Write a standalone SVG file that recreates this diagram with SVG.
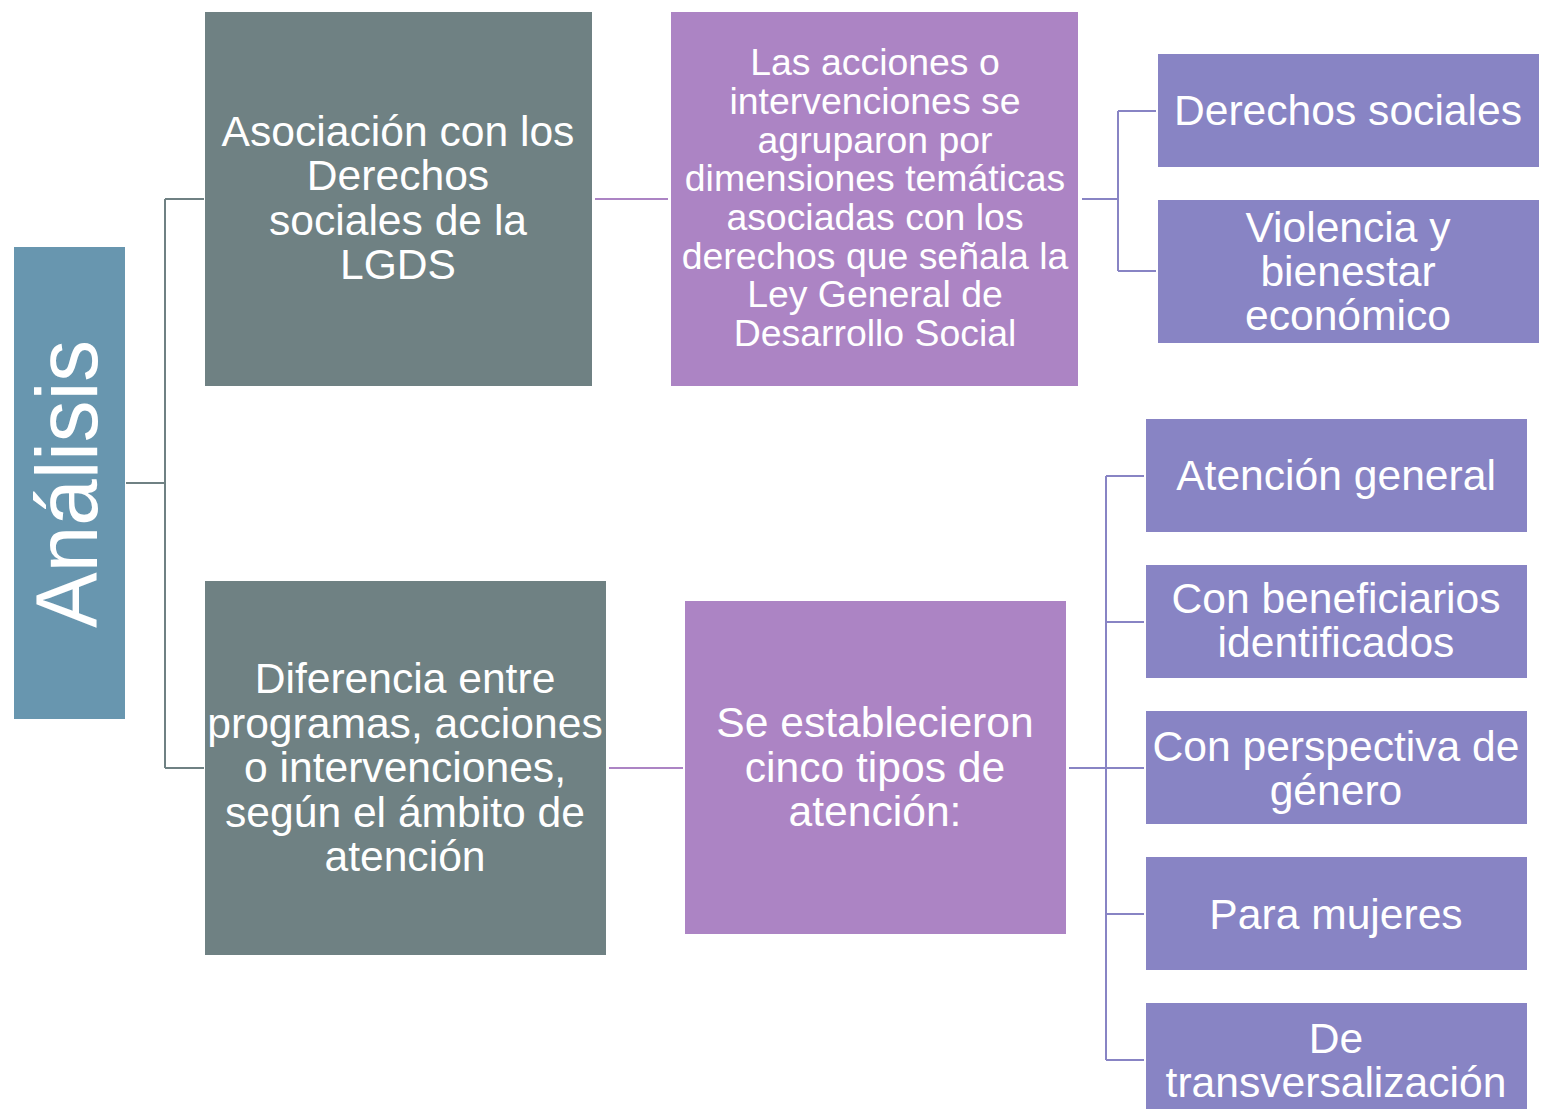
<svg xmlns="http://www.w3.org/2000/svg" width="1544" height="1109" viewBox="0 0 1544 1109">
<style>
.t{font-family:"Liberation Sans",Arial,sans-serif;fill:#ffffff;text-anchor:middle}
.f42{font-size:42.6px}
.f37{font-size:37.4px}
.gray{fill:#6F8183}
.purp{fill:#AC84C4}
.blue{fill:#8884C4}
.root{fill:#6896AF}
.cg{stroke:#6F8183;stroke-width:2;fill:none}
.cp{stroke:#AC84C4;stroke-width:2;fill:none}
.cb{stroke:#8884C4;stroke-width:2;fill:none}
</style>
<rect width="1544" height="1109" fill="#ffffff"/>
<g id="connectors">
<path class="cg" d="M126,483 H165 M165,199 V768 M165,199 H204 M165,768 H204"/>
<path class="cp" d="M595,199 H668"/>
<path class="cp" d="M609,768 H683"/>
<path class="cb" d="M1082,199 H1118 M1118,111 V271 M1118,111 H1156 M1118,271 H1156"/>
<path class="cb" d="M1069,768 H1106 M1106,476 V1060 M1106,476 H1144 M1106,622 H1144 M1106,768 H1144 M1106,914 H1144 M1106,1060 H1144"/>
</g>
<g id="analisis">
<rect class="root" x="14" y="247" width="111" height="472"/>
<text class="t" font-size="88" transform="translate(97,484) rotate(-90)" textLength="288" lengthAdjust="spacingAndGlyphs">Análisis</text>
</g>
<g id="asociacion">
<rect class="gray" x="205" y="12" width="387" height="374"/>
<text class="t f42"><tspan x="398" y="146">Asociación con los</tspan><tspan x="398" y="190">Derechos</tspan><tspan x="398" y="235">sociales de la</tspan><tspan x="398" y="279">LGDS</tspan></text>
</g>
<g id="acciones">
<rect class="purp" x="671" y="12" width="407" height="374"/>
<text class="t f37"><tspan x="875" y="75">Las acciones o</tspan><tspan x="875" y="114">intervenciones se</tspan><tspan x="875" y="153">agruparon por</tspan><tspan x="875" y="191">dimensiones temáticas</tspan><tspan x="875" y="230">asociadas con los</tspan><tspan x="875" y="269">derechos que señala la</tspan><tspan x="875" y="307">Ley General de</tspan><tspan x="875" y="346">Desarrollo Social</tspan></text>
</g>
<g id="derechos-sociales">
<rect class="blue" x="1158" y="54" width="381" height="113"/>
<text class="t f42" x="1348" y="125">Derechos sociales</text>
</g>
<g id="violencia">
<rect class="blue" x="1158" y="200" width="381" height="143"/>
<text class="t f42"><tspan x="1348" y="242">Violencia y</tspan><tspan x="1348" y="286">bienestar</tspan><tspan x="1348" y="330">económico</tspan></text>
</g>
<g id="diferencia">
<rect class="gray" x="205" y="581" width="401" height="374"/>
<text class="t f42"><tspan x="405" y="693">Diferencia entre</tspan><tspan x="405" y="738">programas, acciones</tspan><tspan x="405" y="782">o intervenciones,</tspan><tspan x="405" y="827">según el ámbito de</tspan><tspan x="405" y="871">atención</tspan></text>
</g>
<g id="cinco-tipos">
<rect class="purp" x="685" y="601" width="381" height="333"/>
<text class="t f42"><tspan x="875" y="737">Se establecieron</tspan><tspan x="875" y="782">cinco tipos de</tspan><tspan x="875" y="826">atención:</tspan></text>
</g>
<g id="atencion-general">
<rect class="blue" x="1146" y="419" width="381" height="113"/>
<text class="t f42" x="1336" y="490">Atención general</text>
</g>
<g id="beneficiarios">
<rect class="blue" x="1146" y="565" width="381" height="113"/>
<text class="t f42"><tspan x="1336" y="613">Con beneficiarios</tspan><tspan x="1336" y="657">identificados</tspan></text>
</g>
<g id="perspectiva">
<rect class="blue" x="1146" y="711" width="381" height="113"/>
<text class="t f42"><tspan x="1336" y="761">Con perspectiva de</tspan><tspan x="1336" y="805">género</tspan></text>
</g>
<g id="mujeres">
<rect class="blue" x="1146" y="857" width="381" height="113"/>
<text class="t f42" x="1336" y="929">Para mujeres</text>
</g>
<g id="transversalizacion">
<rect class="blue" x="1146" y="1003" width="381" height="113"/>
<text class="t f42"><tspan x="1336" y="1053">De</tspan><tspan x="1336" y="1097">transversalización</tspan></text>
</g>
</svg>
